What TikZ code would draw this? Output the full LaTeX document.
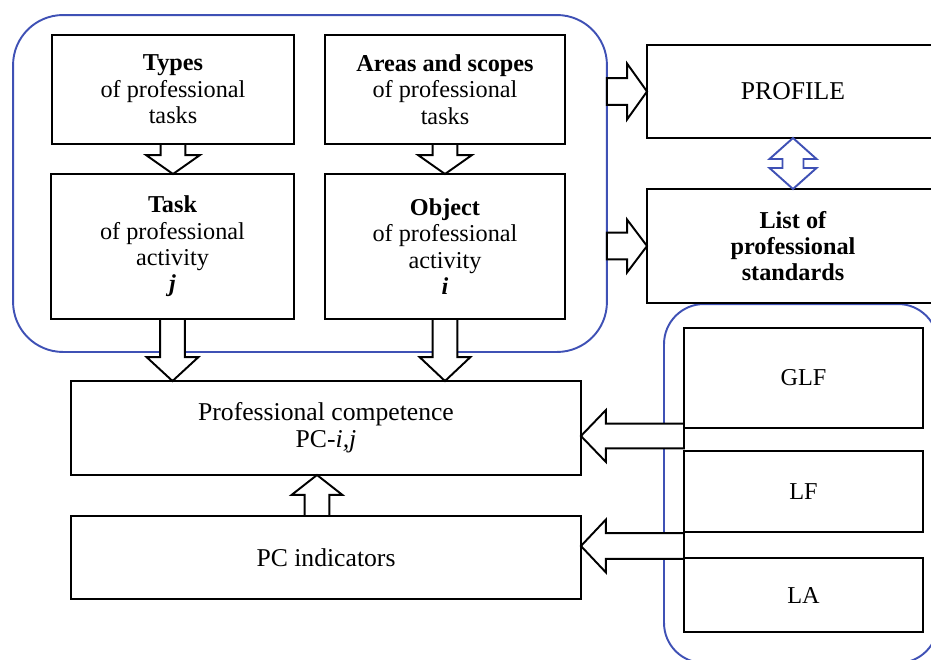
\documentclass[tikz,border=0pt]{standalone}
\usepackage{fontspec}
\setmainfont{Liberation Serif}
\usetikzlibrary{calc}
\definecolor{frameblue}{RGB}{63,81,181}

\def\pxu{0.5669}
\newcommand{\fatarrow}[5]{%
  \draw[fat] let \p1=(#1), \p2=(#2),
      \n1={veclen(\x2-\x1,\y2-\y1)}, \n2={(\x2-\x1)/\n1}, \n3={(\y2-\y1)/\n1},
      \p3=({\x2-\n2*#5*\pxu},{\y2-\n3*#5*\pxu}) in
    ({\x1-\n3*#3*\pxu},{\y1+\n2*#3*\pxu}) -- ({\x3-\n3*#3*\pxu},{\y3+\n2*#3*\pxu})
    -- ({\x3-\n3*#4*\pxu},{\y3+\n2*#4*\pxu}) -- (\p2)
    -- ({\x3+\n3*#4*\pxu},{\y3-\n2*#4*\pxu}) -- ({\x3+\n3*#3*\pxu},{\y3-\n2*#3*\pxu})
    -- ({\x1+\n3*#3*\pxu},{\y1-\n2*#3*\pxu}) -- cycle;
}

\begin{document}
\begin{tikzpicture}[x=0.02cm, y=-0.02cm,
    box/.style={draw, fill=white, line width=1.1pt, outer sep=0pt, inner sep=2pt,
      align=center, font=\fontsize{13.8pt}{15pt}\selectfont},
    bigbox/.style={box, font=\fontsize{14.6pt}{15.4pt}\selectfont},
    group/.style={draw=frameblue, line width=1.1pt, rounded corners=1cm, outer sep=0pt},
    fat/.style={draw=black, fill=white, line width=1.1pt, line join=miter},
    dbl/.style={draw=frameblue, fill=white, line width=1.1pt, line join=miter}]
  \useasboundingbox (0,0) rectangle (931,660);

  \node[group, minimum width=11.88cm, minimum height=6.74cm] (grp) at (310,183.5) {};
  \node[group, rounded corners=0.8cm, minimum width=5.48cm, minimum height=7.18cm] (grpr) at (801,483.5) {};

  \node[box, minimum width=4.84cm, minimum height=2.18cm] (types) at (173,89.5) {\textbf{Types}\\of professional\\tasks};
  \node[box, minimum width=4.80cm, minimum height=2.18cm] (areas) at (445,89.5) {\textbf{Areas and scopes}\\of professional\\tasks};
  \node[box, minimum width=4.86cm, minimum height=2.90cm] (task) at (172.5,246.5) {\textbf{Task}\\of professional\\activity\\\textbf{\textit{j}}};
  \node[box, minimum width=4.80cm, minimum height=2.90cm] (object) at (445,246.5) {\textbf{Object}\\of professional\\activity\\\textbf{\textit{i}}};

  \node[bigbox, minimum width=5.84cm, minimum height=1.86cm] (profile) at (793,91.5) {PROFILE};
  \node[box, minimum width=5.84cm, minimum height=2.28cm] (standards) at (793,246) {\textbf{List of}\\\textbf{professional}\\\textbf{standards}};

  \node[bigbox, minimum width=10.20cm, minimum height=1.88cm] (pc) at (326,428) {Professional competence\\PC-\textit{i,j}};
  \node[bigbox, minimum width=10.20cm, minimum height=1.66cm] (ind) at (326,557.5) {PC indicators};

  \node[box, minimum width=4.78cm, minimum height=2.00cm] (glf) at (803.5,378) {GLF};
  \node[box, minimum width=4.78cm, minimum height=1.62cm] (lf) at (803.5,491.5) {LF};
  \node[box, minimum width=4.78cm, minimum height=1.48cm] (la) at (803.5,595) {LA};

  \coordinate (in1) at ($(glf.south west)+(0,8)$);
  \coordinate (in2) at ($(lf.south west)+(0,14)$);

  \fatarrow{types.south}{types.south |- task.north}{12.5}{27}{19}
  \fatarrow{areas.south}{areas.south |- object.north}{12.5}{27}{19}
  \fatarrow{task.south}{task.south |- pc.north}{12.5}{26}{24}
  \fatarrow{object.south}{object.south |- pc.north}{12.5}{25.5}{24}
  \fatarrow{[xshift=-0.18cm]ind.north}{[xshift=-0.18cm]pc.south}{12.5}{25.5}{20}
  \fatarrow{grp.east |- profile.west}{profile.west}{13.5}{28}{20}
  \fatarrow{grp.east |- standards.west}{standards.west}{13.5}{26.5}{20}
  \fatarrow{in1}{pc.east |- in1}{12.5}{26}{25}
  \fatarrow{in2}{ind.east |- in2}{13}{26.5}{25}

  \draw[dbl] (profile.south) -- ++(23.5,21) -- ++(-13,0) -- ++(0,9) -- ++(13,0)
    -- (standards.north) -- ++(-23.5,-21) -- ++(13,0) -- ++(0,-9) -- ++(-13,0) -- cycle;
\end{tikzpicture}
\end{document}
